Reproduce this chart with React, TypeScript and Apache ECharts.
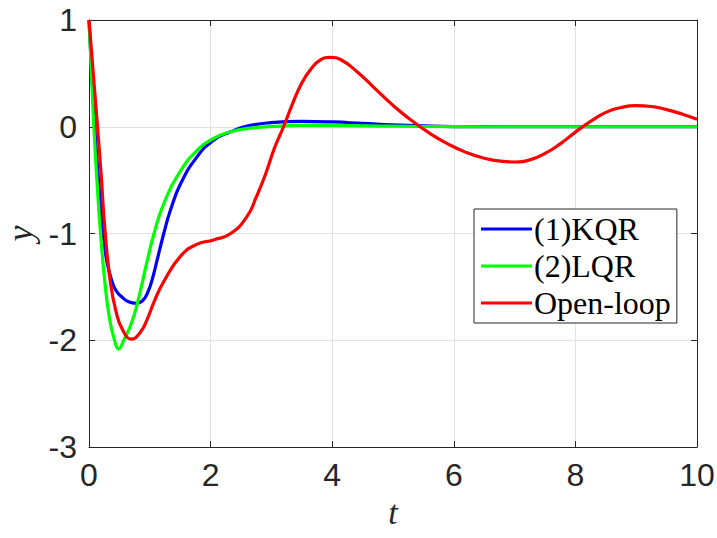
import React, { useEffect, useRef } from "react";
import * as echarts from "echarts";

// Closed-loop (KQR, LQR) and open-loop output responses y(t)
const tKQR = [0, 0.05, 0.1, 0.15, 0.2, 0.25, 0.3, 0.385, 0.45, 0.55, 0.65, 0.78, 0.88, 0.96, 1.04, 1.12, 1.23, 1.34, 1.51, 1.78, 2.05, 2.33, 2.6, 2.99, 3.5, 4, 4.5, 5, 5.5, 6, 7, 8, 9, 10];
const yKQR = [1, 0.45, -0.05, -0.45, -0.78, -1.08, -1.28, -1.46, -1.54, -1.6, -1.64, -1.655, -1.63, -1.56, -1.43, -1.25, -1.0, -0.78, -0.53, -0.28, -0.125, -0.047, 0.006, 0.038, 0.05, 0.045, 0.032, 0.018, 0.008, 0.002, 0, 0, 0, 0];

const tLQR = [0, 0.04, 0.08, 0.13, 0.19, 0.26, 0.33, 0.41, 0.49, 0.57, 0.685, 0.795, 0.96, 1.07, 1.23, 1.51, 1.78, 2.05, 2.33, 2.6, 3.15, 3.5, 4, 5, 6, 7, 8, 9, 10];
const yLQR = [1, 0.5, 0.0, -0.5, -1.0, -1.45, -1.77, -1.98, -2.08, -2.0, -1.86, -1.655, -1.25, -1.0, -0.72, -0.41, -0.22, -0.11, -0.047, -0.016, 0.006, 0.012, 0.012, 0.005, 0.001, 0, 0, 0, 0];

const tOpen = [0, 0.07, 0.14, 0.2, 0.26, 0.35, 0.44, 0.55, 0.7, 0.85, 0.96, 1.07, 1.23, 1.51, 1.78, 2.05, 2.33, 2.6, 2.75, 2.9, 3.05, 3.2, 3.35, 3.5, 3.65, 3.8, 3.97, 4.15, 4.4, 4.7, 5.0, 5.3, 5.6, 5.9, 6.2, 6.5, 6.8, 7.0, 7.25, 7.5, 7.75, 8.0, 8.25, 8.5, 8.75, 9.0, 9.25, 9.5, 9.75, 10];
const yOpen = [1, 0.5, 0.0, -0.45, -0.95, -1.45, -1.72, -1.9, -1.99, -1.92, -1.8, -1.64, -1.45, -1.21, -1.1, -1.06, -1.0, -0.84, -0.66, -0.45, -0.2, 0.0, 0.22, 0.41, 0.54, 0.625, 0.65, 0.625, 0.52, 0.36, 0.2, 0.06, -0.06, -0.16, -0.24, -0.295, -0.325, -0.33, -0.31, -0.25, -0.16, -0.05, 0.05, 0.135, 0.18, 0.197, 0.19, 0.16, 0.12, 0.07];

const seriesNames = ["(1)KQR", "(2)LQR", "Open-loop"];
const seriesColors = ["#0000ff", "#00ff00", "#ff0000"];

const pairs = (t: number[], y: number[]) => t.map((v, i) => [v, y[i]]);

const AXIS = "#262626";
const GRID = "#e2e2e2";
const SANS = "Liberation Sans";
const SERIF = "Liberation Serif";

export default function App() {
  const ref = useRef<HTMLDivElement>(null);

  useEffect(() => {
    if (!ref.current) return;
    const chart = echarts.init(ref.current, null, { renderer: "svg" });

    const baseX = { type: "value" as const, min: 0, max: 10, interval: 2 };
    const baseY = { type: "value" as const, min: -3, max: 1, interval: 1 };
    const line = { show: true, onZero: false, lineStyle: { color: AXIS, width: 1 } };
    const tick = { show: true, inside: true, length: 6, lineStyle: { color: AXIS } };

    const datasets = [pairs(tKQR, yKQR), pairs(tLQR, yLQR), pairs(tOpen, yOpen)];

    chart.setOption({
      animation: false,
      backgroundColor: "#ffffff",
      grid: { left: 89, right: 20, top: 20, bottom: 91, containLabel: false, outerBoundsMode: "none" },
      xAxis: [
        {
          ...baseX,
          position: "bottom",
          name: "t",
          nameLocation: "middle",
          nameGap: 58,
          nameTextStyle: { fontFamily: SERIF, fontStyle: "italic", fontSize: 34, color: AXIS, lineHeight: 30, verticalAlign: "middle" },
          axisLine: line,
          axisTick: tick,
          axisLabel: { show: true, margin: 12, fontFamily: SANS, fontSize: 32, color: AXIS },
          splitLine: { show: true, lineStyle: { color: GRID, width: 1 } },
        },
        {
          ...baseX,
          position: "top",
          axisLine: line,
          axisTick: tick,
          axisLabel: { show: false },
          splitLine: { show: false },
        },
      ],
      yAxis: [
        {
          ...baseY,
          position: "left",
          name: "y",
          nameLocation: "middle",
          nameGap: 50,
          nameRotate: 90,
          nameTextStyle: { fontFamily: SERIF, fontStyle: "italic", fontSize: 36, color: AXIS, lineHeight: 36 },
          axisLine: line,
          axisTick: tick,
          axisLabel: { show: true, margin: 12, fontFamily: SANS, fontSize: 32, color: AXIS },
          splitLine: { show: true, lineStyle: { color: GRID, width: 1 } },
        },
        {
          ...baseY,
          position: "right",
          axisLine: line,
          axisTick: tick,
          axisLabel: { show: false },
          splitLine: { show: false },
        },
      ],
      legend: {
        orient: "vertical",
        left: 474,
        top: 209,
        padding: [4, 6, 4, 7],
        itemGap: 5,
        itemWidth: 51,
        itemHeight: 3,
        icon: "rect",
        backgroundColor: "#ffffff",
        borderColor: AXIS,
        borderWidth: 1,
        borderRadius: 0,
        textStyle: { fontFamily: SERIF, fontSize: 32, color: "#000000", lineHeight: 32, padding: [0, 0, 0, -3] },
        data: seriesNames,
      },
      series: datasets.map((d, i) => ({
        name: seriesNames[i],
        type: "line",
        data: d,
        smooth: 0.5,
        symbol: "none",
        color: seriesColors[i],
        lineStyle: { color: seriesColors[i], width: 3.2 },
        z: 2 + i,
      })),
    });

    return () => chart.dispose();
  }, []);

  return <div ref={ref} style={{ width: 717, height: 538, position: "absolute", left: 0, top: 0 }} />;
}
